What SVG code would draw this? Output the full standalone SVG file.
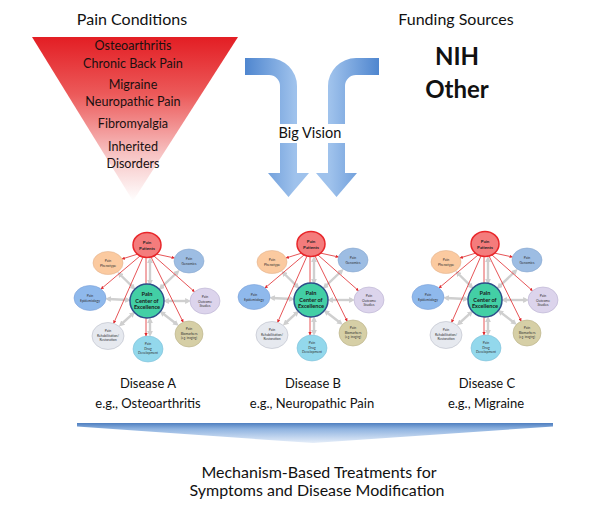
<svg xmlns="http://www.w3.org/2000/svg" width="616" height="510" viewBox="0 0 616 510">
<style>
text{font-family:Lato,"Open Sans","Liberation Sans",sans-serif;fill:#111;text-anchor:middle}
.h{font-size:16px}
.big{font-size:24px;font-weight:bold}
.tri{font-size:12.6px;fill:#1a1010}
.lab{font-size:13px}
.foot{font-size:16px}
.n{font-size:3.4px;fill:#333}
.np{font-size:4.4px;font-weight:bold;fill:#222}
.nc{font-size:5.6px;font-weight:bold;fill:#1a1a1a}
.gray{stroke:#cfcfcf;stroke-width:2.4;fill:none;marker-start:url(#ga);marker-end:url(#ga)}
.red{stroke:#e0282c;stroke-width:0.8;fill:none;marker-end:url(#ra)}
.pat{fill:#f47c7c;stroke:#e8262a;stroke-width:1.5}
.cen{fill:#43cfa5;stroke:#2c4e8a;stroke-width:1.5}
.ph{fill:#fbcaa0;stroke:#e2b38e;stroke-width:0.6}
.ge{fill:#9dbde3;stroke:#86a6cf;stroke-width:0.6}
.ep{fill:#8fb9ec;stroke:#7aa0d8;stroke-width:0.6}
.ou{fill:#dcd4ec;stroke:#b8b0d0;stroke-width:0.6}
.re{fill:#e6e9ef;stroke:#b8bcc8;stroke-width:0.6}
.dr{fill:#93d8ec;stroke:#7fc0d8;stroke-width:0.6}
.bi{fill:#d6cfa6;stroke:#b8b088;stroke-width:0.6}
</style>
<defs>
<linearGradient id="tg" x1="0" y1="0" x2="0" y2="1">
<stop offset="0" stop-color="#e31e24"/><stop offset="0.35" stop-color="#ec5a5a"/><stop offset="0.72" stop-color="#f7c4c4"/><stop offset="1" stop-color="#ffffff"/>
</linearGradient>
<linearGradient id="agl" gradientUnits="userSpaceOnUse" x1="245" y1="0" x2="295" y2="0">
<stop offset="0" stop-color="#4f86cf"/><stop offset="1" stop-color="#9fc2ec"/>
</linearGradient>
<linearGradient id="agr" gradientUnits="userSpaceOnUse" x1="379" y1="0" x2="330" y2="0">
<stop offset="0" stop-color="#4f86cf"/><stop offset="1" stop-color="#9fc2ec"/>
</linearGradient>
<linearGradient id="bg" x1="0" y1="0" x2="0" y2="1">
<stop offset="0" stop-color="#4f7fc0"/><stop offset="0.3" stop-color="#8fb3e0"/><stop offset="1" stop-color="#e6eef9"/>
</linearGradient>
<marker id="ga" viewBox="0 0 10 10" refX="5" refY="5" markerWidth="2.4" markerHeight="2.4" orient="auto-start-reverse"><path d="M0,0 L10,5 L0,10 Z" fill="#cfcfcf"/></marker>
<marker id="ra" viewBox="0 0 10 10" refX="9" refY="5" markerWidth="4" markerHeight="4" orient="auto"><path d="M0,0 L10,5 L0,10 Z" fill="#e0282c"/></marker>
</defs>

<g id="pain-conditions">
<text class="h" x="132" y="25">Pain Conditions</text>
<path d="M32,37 L238,37 L133,201 Z" fill="url(#tg)"/>
<text class="tri" x="133" y="50">Osteoarthritis</text>
<text class="tri" x="133" y="68">Chronic Back Pain</text>
<text class="tri" x="133" y="89">Migraine</text>
<text class="tri" x="133" y="106">Neuropathic Pain</text>
<text class="tri" x="133" y="128">Fibromyalgia</text>
<text class="tri" x="133" y="151">Inherited</text>
<text class="tri" x="133" y="168">Disorders</text>
</g>

<g id="funding-sources">
<text class="h" x="456" y="25">Funding Sources</text>
<text class="big" x="457" y="65">NIH</text>
<text class="big" x="457" y="98">Other</text>
</g>

<g id="big-vision">
<path d="M245,58 L269,58 A28,28 0 0 1 297,86 L297,173 L309,173 L288.5,197 L268,173 L280,173 L280,86 A11,11 0 0 0 269,75 L245,75 Z" fill="url(#agl)"/>
<path d="M379,58 L356,58 A28,28 0 0 0 328,86 L328,173 L316,173 L336.5,197 L357,173 L345,173 L345,86 A11,11 0 0 1 356,75 L379,75 Z" fill="url(#agr)"/>
<rect x="272" y="124" width="77" height="19" fill="#fff"/>
<text x="310" y="137.5" style="font-size:14.5px">Big Vision</text>
</g>

<g id="connectors">
<g id="conn-a" transform="translate(147,301)">
<path class="gray" d="M3,-18 L3,-41"/><path class="gray" d="M-13.6,-13.3 L-27.5,-27"/><path class="gray" d="M13.8,-13.1 L30.5,-29"/><path class="gray" d="M-19,-1 L-39,-2"/><path class="gray" d="M19,0 L41,0"/><path class="gray" d="M-14.1,12.7 L-26,23.5"/><path class="gray" d="M3,19 L3,33"/><path class="gray" d="M14.9,11.7 L29.5,23"/>
<path class="red" d="M-9,-47 L-25,-42"/><path class="red" d="M-7,-45 L-46,-12"/><path class="red" d="M-4,-44 L-33.4,22.4"/><path class="red" d="M9,-47 L27.5,-43"/><path class="red" d="M7,-45 L47.5,-9.3"/><path class="red" d="M4,-44 L36.2,21.2"/><path class="red" d="M-1,-44 L-1,35"/>
</g>
<g id="conn-b" transform="translate(311,300)">
<path class="gray" d="M3,-18 L3,-41"/><path class="gray" d="M-13.6,-13.3 L-27.5,-27"/><path class="gray" d="M13.8,-13.1 L30.5,-29"/><path class="gray" d="M-19,-1 L-39,-2"/><path class="gray" d="M19,0 L41,0"/><path class="gray" d="M-14.1,12.7 L-26,23.5"/><path class="gray" d="M3,19 L3,33"/><path class="gray" d="M14.9,11.7 L29.5,23"/>
<path class="red" d="M-9,-47 L-25,-42"/><path class="red" d="M-7,-45 L-46,-12"/><path class="red" d="M-4,-44 L-33.4,22.4"/><path class="red" d="M9,-47 L27.5,-43"/><path class="red" d="M7,-45 L47.5,-9.3"/><path class="red" d="M4,-44 L36.2,21.2"/><path class="red" d="M-1,-44 L-1,35"/>
</g>
<g id="conn-c" transform="translate(485,300)">
<path class="gray" d="M3,-18 L3,-41"/><path class="gray" d="M-13.6,-13.3 L-27.5,-27"/><path class="gray" d="M13.8,-13.1 L30.5,-29"/><path class="gray" d="M-19,-1 L-39,-2"/><path class="gray" d="M19,0 L41,0"/><path class="gray" d="M-14.1,12.7 L-26,23.5"/><path class="gray" d="M3,19 L3,33"/><path class="gray" d="M14.9,11.7 L29.5,23"/>
<path class="red" d="M-9,-47 L-25,-42"/><path class="red" d="M-7,-45 L-46,-12"/><path class="red" d="M-4,-44 L-33.4,22.4"/><path class="red" d="M9,-47 L27.5,-43"/><path class="red" d="M7,-45 L47.5,-9.3"/><path class="red" d="M4,-44 L36.2,21.2"/><path class="red" d="M-1,-44 L-1,35"/>
</g>
</g>

<g id="cluster-a" transform="translate(147,301)">
<g id="a-patients"><ellipse class="pat" cx="0" cy="-56" rx="14" ry="12.5"/><text class="np" x="0" y="-57">Pain</text><text class="np" x="0" y="-51.5">Patients</text></g>
<g id="a-phenotype"><ellipse class="ph" cx="-39" cy="-38" rx="15" ry="11.5"/><text class="n" x="-39" y="-39">Pain</text><text class="n" x="-39" y="-34.5">Phenotype</text></g>
<g id="a-genomics"><ellipse class="ge" cx="42" cy="-40" rx="15" ry="12"/><text class="n" x="42" y="-41">Pain</text><text class="n" x="42" y="-36.5">Genomics</text></g>
<g id="a-epidemiology"><ellipse class="ep" cx="-57" cy="-3" rx="16" ry="12.5"/><text class="n" x="-57" y="-4">Pain</text><text class="n" x="-57" y="0.5">Epidemiology</text></g>
<g id="a-outcome"><ellipse class="ou" cx="58" cy="0" rx="15" ry="13"/><text class="n" x="58" y="-3">Pain</text><text class="n" x="58" y="1.5">Outcome</text><text class="n" x="58" y="6">Studies</text></g>
<g id="a-rehab"><ellipse class="re" cx="-39" cy="35" rx="16" ry="13.5"/><text class="n" x="-39" y="31">Pain</text><text class="n" x="-39" y="35.5">Rehabilitation/</text><text class="n" x="-39" y="40">Restoration</text></g>
<g id="a-drug"><ellipse class="dr" cx="1" cy="48" rx="15" ry="13"/><text class="n" x="1" y="44">Pain</text><text class="n" x="1" y="48.5">Drug</text><text class="n" x="1" y="53">Development</text></g>
<g id="a-biomarkers"><ellipse class="bi" cx="42" cy="33" rx="14" ry="13"/><text class="n" x="42" y="29">Pain</text><text class="n" x="42" y="33.5">Biomarkers</text><text class="n" x="42" y="38" style="font-size:2.8px">(e.g. imaging)</text></g>
<g id="a-center"><circle class="cen" cx="0" cy="0" r="17"/><text class="nc" x="0" y="-5">Pain</text><text class="nc" x="0" y="1.5">Center of</text><text class="nc" x="0" y="8">Excellence</text></g>
</g>

<g id="cluster-b" transform="translate(311,300)">
<g id="b-patients"><ellipse class="pat" cx="0" cy="-56" rx="14" ry="12.5"/><text class="np" x="0" y="-57">Pain</text><text class="np" x="0" y="-51.5">Patients</text></g>
<g id="b-phenotype"><ellipse class="ph" cx="-39" cy="-38" rx="15" ry="11.5"/><text class="n" x="-39" y="-39">Pain</text><text class="n" x="-39" y="-34.5">Phenotype</text></g>
<g id="b-genomics"><ellipse class="ge" cx="42" cy="-40" rx="15" ry="12"/><text class="n" x="42" y="-41">Pain</text><text class="n" x="42" y="-36.5">Genomics</text></g>
<g id="b-epidemiology"><ellipse class="ep" cx="-57" cy="-3" rx="16" ry="12.5"/><text class="n" x="-57" y="-4">Pain</text><text class="n" x="-57" y="0.5">Epidemiology</text></g>
<g id="b-outcome"><ellipse class="ou" cx="58" cy="0" rx="15" ry="13"/><text class="n" x="58" y="-3">Pain</text><text class="n" x="58" y="1.5">Outcome</text><text class="n" x="58" y="6">Studies</text></g>
<g id="b-rehab"><ellipse class="re" cx="-39" cy="35" rx="16" ry="13.5"/><text class="n" x="-39" y="31">Pain</text><text class="n" x="-39" y="35.5">Rehabilitation/</text><text class="n" x="-39" y="40">Restoration</text></g>
<g id="b-drug"><ellipse class="dr" cx="1" cy="48" rx="15" ry="13"/><text class="n" x="1" y="44">Pain</text><text class="n" x="1" y="48.5">Drug</text><text class="n" x="1" y="53">Development</text></g>
<g id="b-biomarkers"><ellipse class="bi" cx="42" cy="33" rx="14" ry="13"/><text class="n" x="42" y="29">Pain</text><text class="n" x="42" y="33.5">Biomarkers</text><text class="n" x="42" y="38" style="font-size:2.8px">(e.g. imaging)</text></g>
<g id="b-center"><circle class="cen" cx="0" cy="0" r="17"/><text class="nc" x="0" y="-5">Pain</text><text class="nc" x="0" y="1.5">Center of</text><text class="nc" x="0" y="8">Excellence</text></g>
</g>

<g id="cluster-c" transform="translate(485,300)">
<g id="c-patients"><ellipse class="pat" cx="0" cy="-56" rx="14" ry="12.5"/><text class="np" x="0" y="-57">Pain</text><text class="np" x="0" y="-51.5">Patients</text></g>
<g id="c-phenotype"><ellipse class="ph" cx="-39" cy="-38" rx="15" ry="11.5"/><text class="n" x="-39" y="-39">Pain</text><text class="n" x="-39" y="-34.5">Phenotype</text></g>
<g id="c-genomics"><ellipse class="ge" cx="42" cy="-40" rx="15" ry="12"/><text class="n" x="42" y="-41">Pain</text><text class="n" x="42" y="-36.5">Genomics</text></g>
<g id="c-epidemiology"><ellipse class="ep" cx="-57" cy="-3" rx="16" ry="12.5"/><text class="n" x="-57" y="-4">Pain</text><text class="n" x="-57" y="0.5">Epidemiology</text></g>
<g id="c-outcome"><ellipse class="ou" cx="58" cy="0" rx="15" ry="13"/><text class="n" x="58" y="-3">Pain</text><text class="n" x="58" y="1.5">Outcome</text><text class="n" x="58" y="6">Studies</text></g>
<g id="c-rehab"><ellipse class="re" cx="-39" cy="35" rx="16" ry="13.5"/><text class="n" x="-39" y="31">Pain</text><text class="n" x="-39" y="35.5">Rehabilitation/</text><text class="n" x="-39" y="40">Restoration</text></g>
<g id="c-drug"><ellipse class="dr" cx="1" cy="48" rx="15" ry="13"/><text class="n" x="1" y="44">Pain</text><text class="n" x="1" y="48.5">Drug</text><text class="n" x="1" y="53">Development</text></g>
<g id="c-biomarkers"><ellipse class="bi" cx="42" cy="33" rx="14" ry="13"/><text class="n" x="42" y="29">Pain</text><text class="n" x="42" y="33.5">Biomarkers</text><text class="n" x="42" y="38" style="font-size:2.8px">(e.g. imaging)</text></g>
<g id="c-center"><circle class="cen" cx="0" cy="0" r="17"/><text class="nc" x="0" y="-5">Pain</text><text class="nc" x="0" y="1.5">Center of</text><text class="nc" x="0" y="8">Excellence</text></g>
</g>

<g id="disease-labels">
<text class="lab" x="148" y="388">Disease A</text>
<text class="lab" x="148" y="408">e.g., Osteoarthritis</text>
<text class="lab" x="313" y="388">Disease B</text>
<text class="lab" x="312" y="408">e.g., Neuropathic Pain</text>
<text class="lab" x="487" y="388">Disease C</text>
<text class="lab" x="486" y="408">e.g., Migraine</text>
</g>

<g id="outcome-arrow">
<path d="M77,423 L553,423 L553,426.5 L313,443 L77,426.5 Z" fill="url(#bg)"/>
</g>

<g id="outcome">
<text class="foot" x="319" y="478">Mechanism-Based Treatments for</text>
<text class="foot" x="317" y="496">Symptoms and Disease Modification</text>
</g>
</svg>
